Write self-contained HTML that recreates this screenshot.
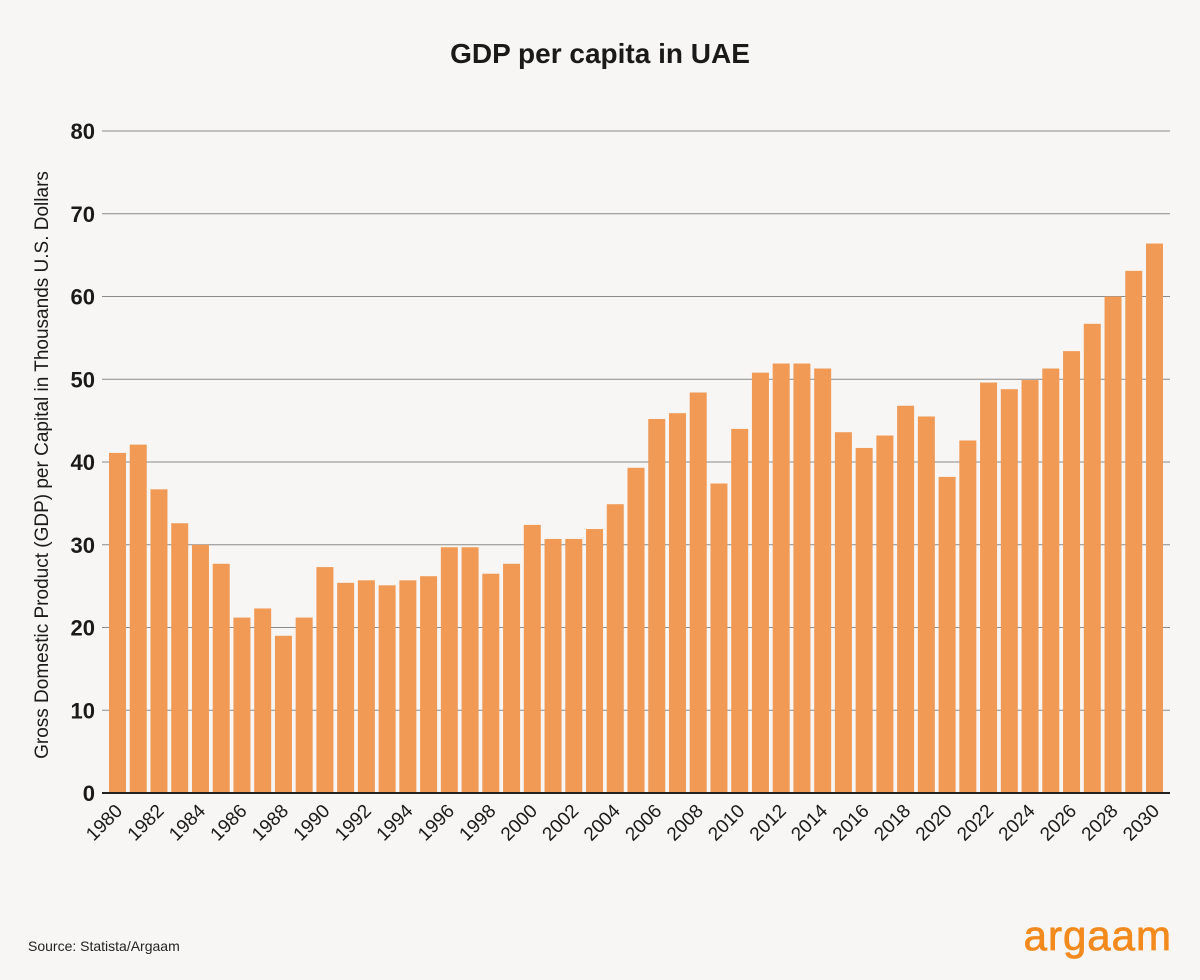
<!DOCTYPE html>
<html><head><meta charset="utf-8"><style>
html,body{margin:0;padding:0;background:#f8f6f4;}
svg{display:block;font-family:"Liberation Sans",Arial,sans-serif;}
</style></head><body>
<svg id="c" width="1200" height="980" viewBox="0 0 1200 980" xmlns="http://www.w3.org/2000/svg">
<rect width="1200" height="980" fill="#f8f6f4"/>
<text x="600" y="63" text-anchor="middle" font-size="28" font-weight="bold" fill="#1a1a1a">GDP per capita in UAE</text>
<text transform="translate(48,465) rotate(-90)" text-anchor="middle" font-size="19" fill="#1a1a1a">Gross Domestic Product (GDP) per Capital in Thousands U.S. Dollars</text>
<g id="grid"></g><g id="bars"></g><g id="xl"></g>
<line x1="102" y1="793" x2="1170" y2="793" stroke="#222" stroke-width="2"/>
<text x="28" y="951" font-size="14" fill="#222">Source: Statista/Argaam</text>
<text x="1172" y="950" text-anchor="end" font-size="42" fill="#f28a1e" stroke="#f28a1e" stroke-width="0.8" letter-spacing="1">argaam</text>
</svg>
<script>
var ns="http://www.w3.org/2000/svg";
function el(p,t,a,txt){var e=document.createElementNS(ns,t);for(var k in a)e.setAttribute(k,a[k]);if(txt!=null)e.textContent=txt;document.getElementById(p).appendChild(e);}
var y0=793,s=8.275;
for(var v=10;v<=80;v+=10){var y=y0-v*s;el("grid","line",{x1:102,y1:y,x2:1170,y2:y,stroke:"#8a8a8a","stroke-width":1});}
for(var v=0;v<=80;v+=10){el("grid","text",{x:95,y:y0-v*s+8,"text-anchor":"end","font-size":22,"font-weight":"bold",fill:"#1a1a1a"},String(v));}
var d=[41.1,42.1,36.7,32.6,30.0,27.7,21.2,22.3,19.0,21.2,27.3,25.4,25.7,25.1,25.7,26.2,29.7,29.7,26.5,27.7,32.4,30.7,30.7,31.9,34.9,39.3,45.2,45.9,48.4,37.4,44.0,50.8,51.9,51.9,51.3,43.6,41.7,43.2,46.8,45.5,38.2,42.6,49.6,48.8,49.9,51.3,53.4,56.7,60.0,63.1,66.4];
for(var i=0;i<d.length;i++){var x=109+i*20.74;var h=d[i]*s;
el("bars","rect",{x:x,y:y0-h,width:17,height:h,fill:"#f09a56"});
if(i%2==0){var cx=x+8.5+6;el("xl","text",{transform:"translate("+cx+",812) rotate(-45)","text-anchor":"end","font-size":19,fill:"#1a1a1a"},String(1980+i));}}
</script>
</body></html>
